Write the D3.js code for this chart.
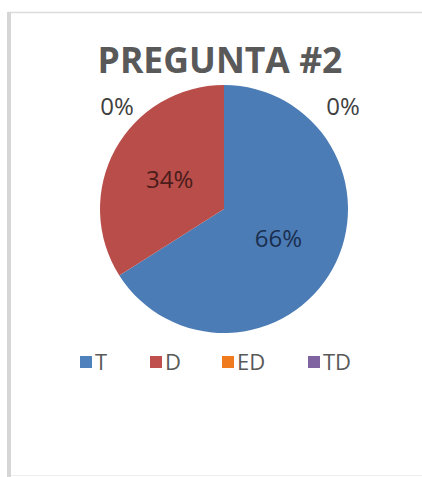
<!DOCTYPE html>
<html>
<head>
<meta charset="utf-8">
<script src="https://cdn.jsdelivr.net/npm/d3@7"></script>
<style>
  html, body { margin: 0; padding: 0; background: #ffffff; }
  svg { display: block; }
</style>
</head>
<body>
<svg id="chart" width="422" height="477"></svg>
<script>
// ---- data ----
const title = "PREGUNTA #2";
const categories = ["T", "D", "ED", "TD"];
const values = [66, 34, 0, 0];
const colors = ["#4f81bd", "#c0504d", "#f07a1e", "#8064a2"];
const labelColors = ["#1a2f4f", "#4a1c1a", "#404040", "#404040"];

// ---- layout ----
const W = 422, H = 477;
const cx = 224, cy = 209, R = 124;
const fontFam = "'Open Sans', 'Lato', 'DejaVu Sans', sans-serif";

const svg = d3.select("#chart");

// frame
svg.append("line").attr("x1", 8).attr("x2", W).attr("y1", 12.5).attr("y2", 12.5)
  .attr("stroke", "#dcdcdc").attr("stroke-width", 1.5);
svg.append("line").attr("x1", 8).attr("x2", W).attr("y1", 475.5).attr("y2", 475.5)
  .attr("stroke", "#eeeeee").attr("stroke-width", 1);
svg.append("rect").attr("x", 7).attr("y", 12).attr("width", 4).attr("height", H - 12)
  .attr("fill", "#d6d6d6");

// gradients
const defs = svg.append("defs");
colors.forEach((c, i) => {
  const g = defs.append("radialGradient").attr("id", "g" + i)
    .attr("gradientUnits", "userSpaceOnUse")
    .attr("cx", cx).attr("cy", cy).attr("r", R);
  g.append("stop").attr("offset", "0%").attr("stop-color", d3.color(c).brighter(0.12));
  g.append("stop").attr("offset", "90%").attr("stop-color", d3.color(c).brighter(0.04));
  g.append("stop").attr("offset", "100%").attr("stop-color", d3.color(c).darker(0.12));
});

// title
const t = svg.append("text").attr("x", 220).attr("y", 73)
  .attr("text-anchor", "middle")
  .attr("font-family", fontFam).attr("font-weight", "bold")
  .attr("font-size", 28).attr("fill", "#595959")
  .text(title);
const tw = t.node().getComputedTextLength();
t.attr("font-size", 28 * 245 / tw);

// pie
const pie = d3.pie().sort(null).value(d => d)
  .startAngle(0).endAngle(2 * Math.PI);
const arcs = pie(values);
const arc = d3.arc().innerRadius(0).outerRadius(R);
const g = svg.append("g").attr("transform", `translate(${cx},${cy})`);

g.selectAll("path").data(arcs).enter().append("path")
  .attr("d", arc)
  .attr("fill", (d, i) => `url(#g${i})`)
  .attr("stroke", "none");

// labels inside for non-zero slices
g.selectAll("text.in").data(arcs.filter(d => d.data > 0)).enter().append("text")
  .attr("class", "in")
  .attr("transform", d => `translate(${arc.centroid(d)})`)
  .attr("text-anchor", "middle").attr("dy", "0.35em")
  .attr("font-family", fontFam).attr("font-size", 24)
  .attr("fill", d => labelColors[d.index])
  .text(d => d.data + "%");

// zero-value labels placed outside the top of the pie (left and right)
const zeroPos = [[-107, -102], [119, -102]];
arcs.filter(d => d.data === 0).forEach((d, k) => {
  g.append("text")
    .attr("x", zeroPos[k][0]).attr("y", zeroPos[k][1])
    .attr("text-anchor", "middle").attr("dy", "0.35em")
    .attr("font-family", fontFam).attr("font-size", 24)
    .attr("fill", labelColors[d.index])
    .text(d.data + "%");
});

// legend
const legendY = 362;
const legendX = [80, 150, 222, 308];
const lg = svg.append("g");
categories.forEach((c, i) => {
  const item = lg.append("g").attr("transform", `translate(${legendX[i]},${legendY})`);
  item.append("rect").attr("x", 0).attr("y", -6).attr("width", 12).attr("height", 12)
    .attr("fill", colors[i]);
  item.append("text").attr("x", 15).attr("y", 0).attr("dy", "0.36em")
    .attr("font-family", fontFam).attr("font-size", 22).attr("fill", "#595959")
    .text(c);
});
</script>
</body>
</html>
